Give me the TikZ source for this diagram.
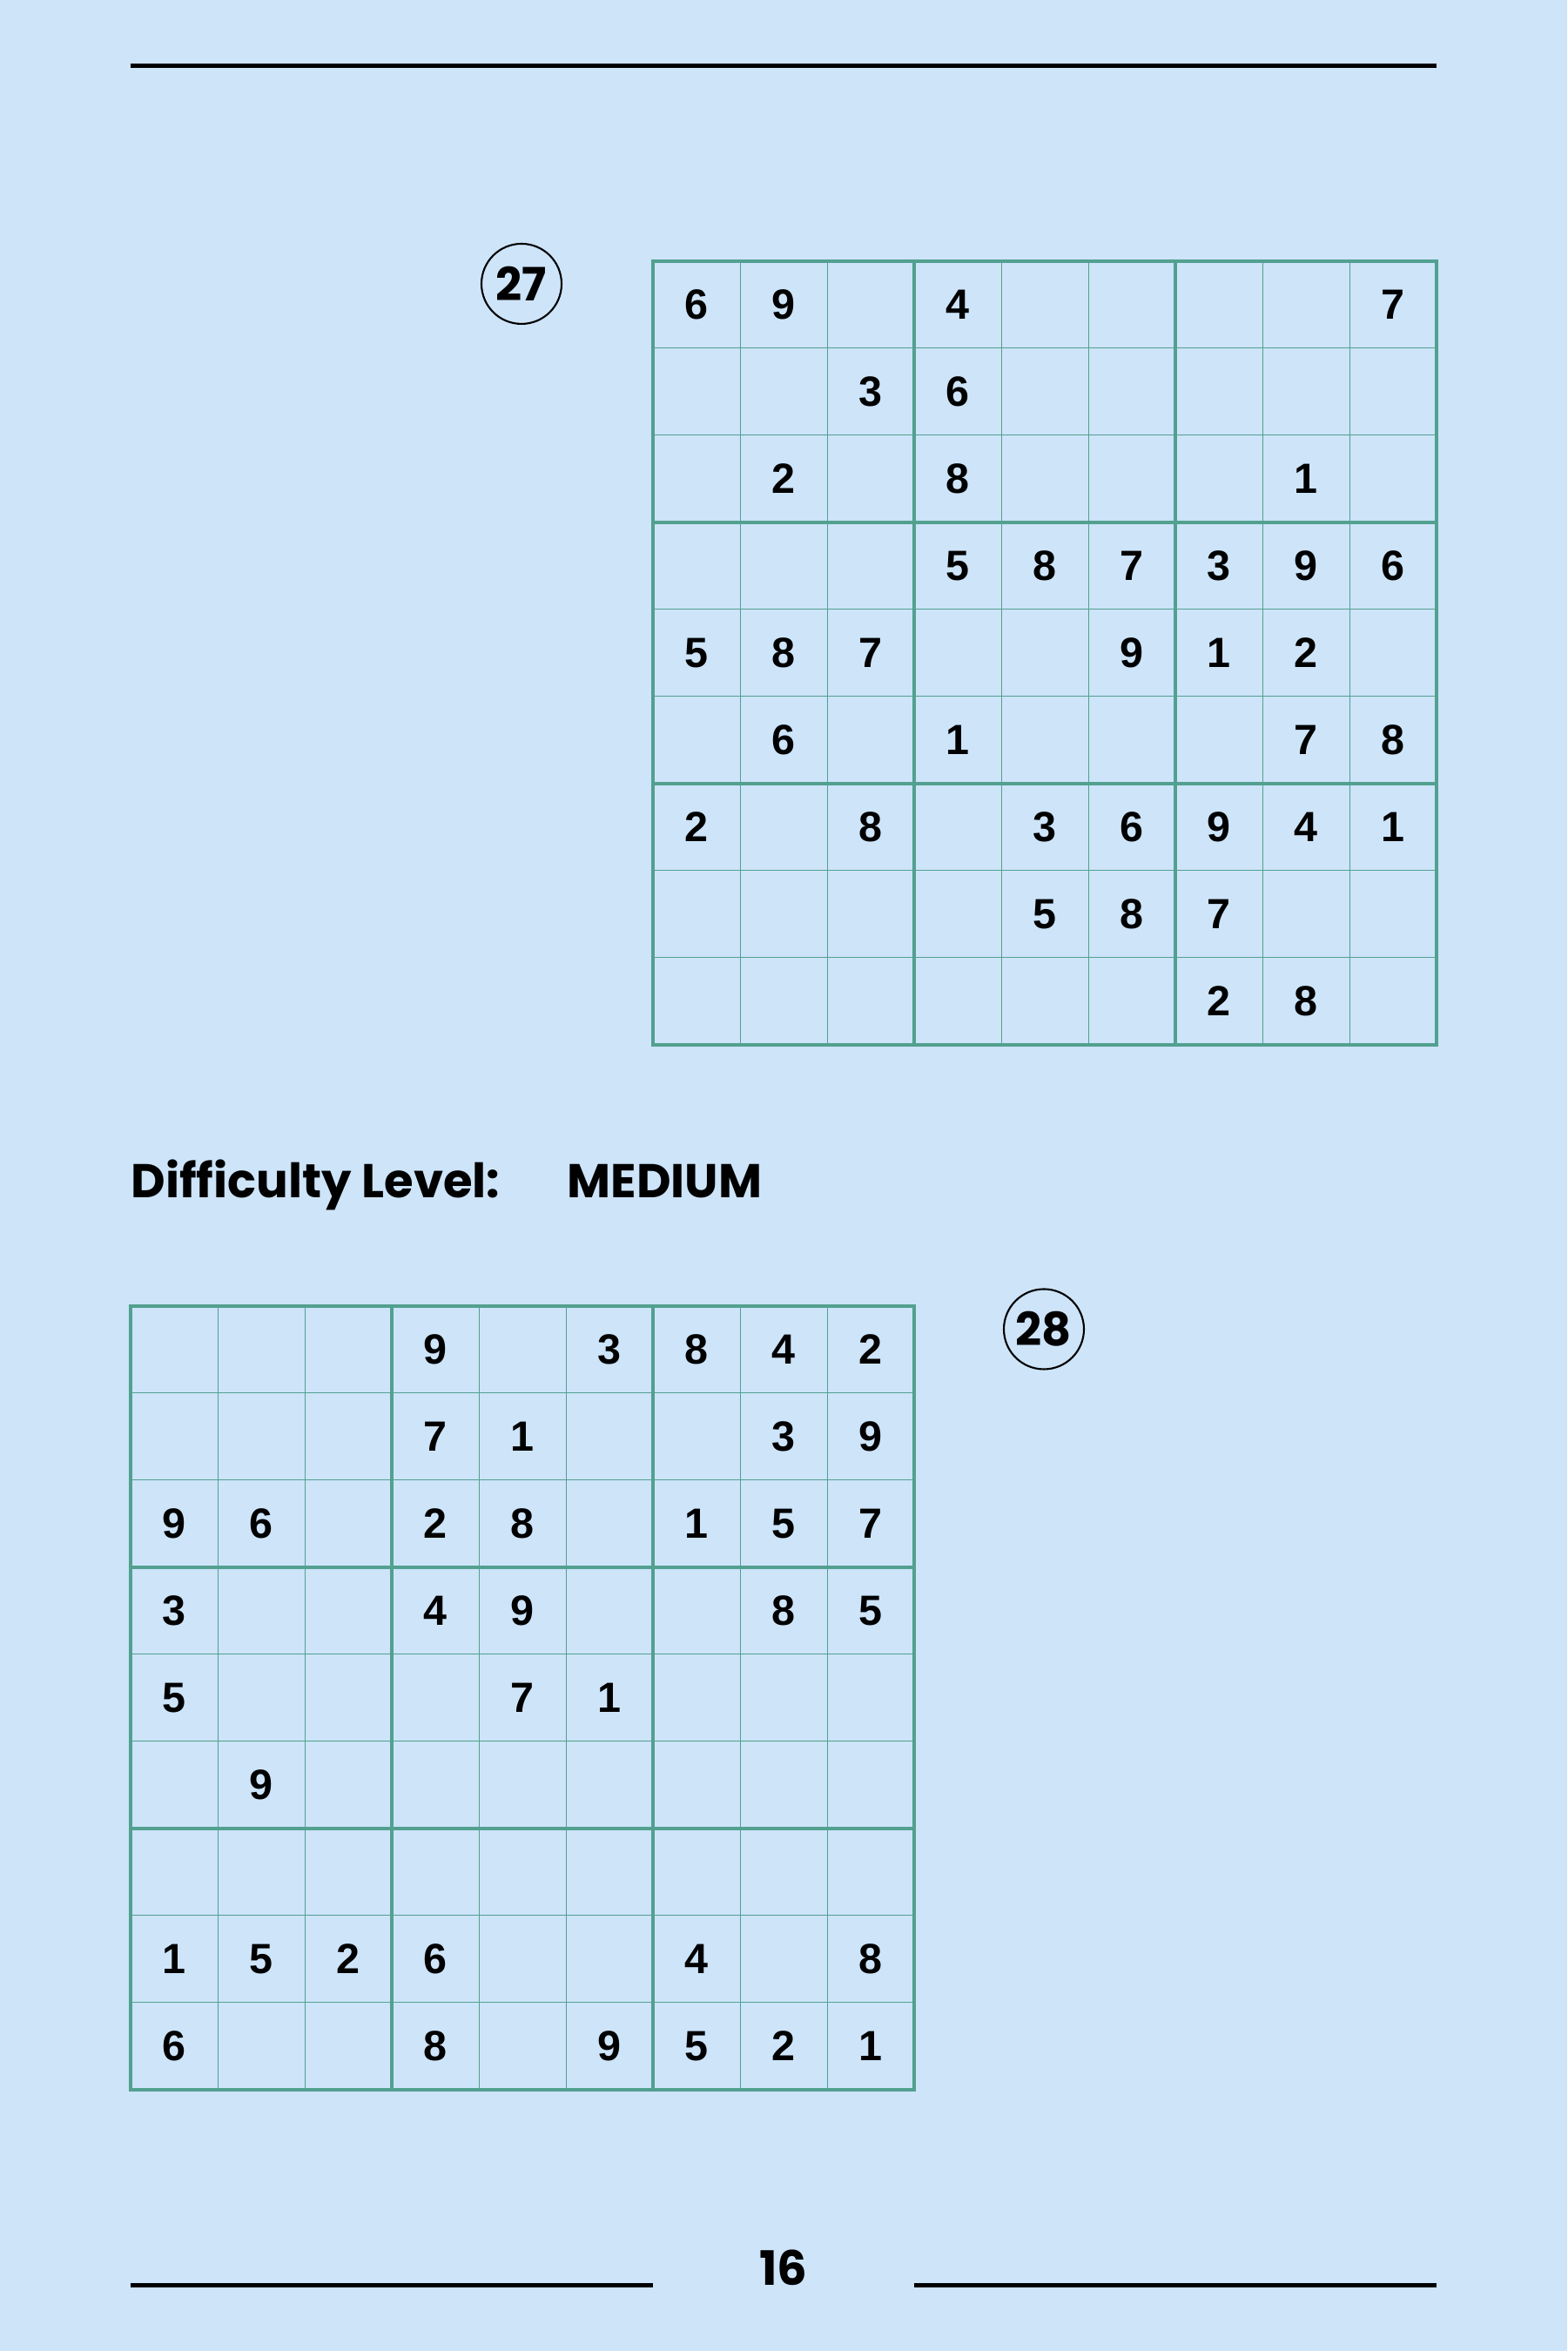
\documentclass[tikz,border=0pt]{standalone}
\usepackage{fontspec}
\setmainfont{Poppins}
\newfontfamily\cellfont{Liberation Sans}
\usetikzlibrary{positioning}
\definecolor{pagebg}{HTML}{CDE4F9}
\definecolor{gridteal}{HTML}{52A08F}

\begin{document}
\begin{tikzpicture}[
  cell/.style={font=\cellfont\bfseries\fontsize{13.8}{14}\selectfont},
  title/.style={font=\bfseries\fontsize{15.5}{18}\selectfont,anchor=base west,inner sep=0pt},
  puzzleno/.style={draw,circle,minimum size=0.92cm,inner sep=0pt,line width=0.6pt,font=\bfseries\fontsize{15}{18}\selectfont},
  thinline/.style={gridteal,line width=0.01cm},
  boxline/.style={gridteal,line width=0.043cm},
  rule/.style={line width=0.05cm}
]
\fill[pagebg] (0,0) rectangle (18,27);
\useasboundingbox (0,0) rectangle (18,27);

\draw[rule] (1.5,26.245) -- (16.5,26.245);

% puzzle 27
\node[puzzleno] (no27) at (5.99,23.74) {27};
\begin{scope}[shift={(7.5,15)}]
\draw[thinline] (0,0) grid (9,9);
\draw[boxline,step=3] (0,0) grid (9,9);
\draw[boxline] (0,0) rectangle (9,9);
\foreach \row[count=\r] in {
  {6,9,,4,,,,,7},
  {,,3,6,,,,,},
  {,2,,8,,,,1,},
  {,,,5,8,7,3,9,6},
  {5,8,7,,,9,1,2,},
  {,6,,1,,,,7,8},
  {2,,8,,3,6,9,4,1},
  {,,,,5,8,7,,},
  {,,,,,,2,8,}%
}
\foreach \d[count=\c] in \row
\node[cell] (a\r\c) at (\c-.5,9.5-\r) {\d};
\end{scope}

\node[title] (level) at (1.5,13.24) {Difficulty Level:};
\node[title] (grade) at (6.51,13.24) {MEDIUM};

% puzzle 28
\node[puzzleno] (no28) at (11.99,11.735) {28};
\begin{scope}[shift={(1.5,3)}]
\draw[thinline] (0,0) grid (9,9);
\draw[boxline,step=3] (0,0) grid (9,9);
\draw[boxline] (0,0) rectangle (9,9);
\foreach \row[count=\r] in {
  {,,,9,,3,8,4,2},
  {,,,7,1,,,3,9},
  {9,6,,2,8,,1,5,7},
  {3,,,4,9,,,8,5},
  {5,,,,7,1,,,},
  {,9,,,,,,,},
  {,,,,,,,,},
  {1,5,2,6,,,4,,8},
  {6,,,8,,9,5,2,1}%
}
\foreach \d[count=\c] in \row
\node[cell] (b\r\c) at (\c-.5,9.5-\r) {\d};
\end{scope}

\node[title,anchor=base] (pageno) at (9,0.75) {16};
\draw[rule] (1.5,0.75) -- (7.5,0.75);
\draw[rule] (10.5,0.75) -- (16.5,0.75);
\end{tikzpicture}
\end{document}
